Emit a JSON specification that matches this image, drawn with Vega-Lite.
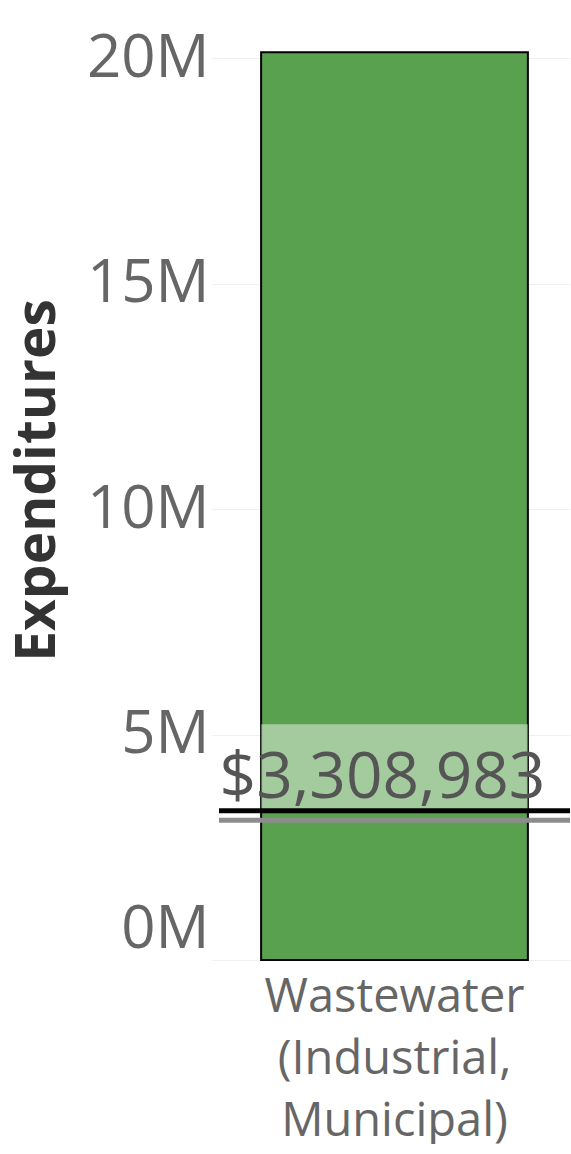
{
  "$schema": "https://vega.github.io/schema/vega-lite/v6.json",
  "width": 351,
  "height": 960,
  "padding": {"left": 10, "top": 0, "right": 0, "bottom": 0},
  "background": "white",
  "data": {"values": [
    {"category": "Wastewater (Industrial, Municipal)", "expenditures": 20130000, "reference": 3308983, "band_high": 5230000, "secondary": 3100000}
  ]},
  "encoding": {
    "x": {
      "field": "category", "type": "nominal",
      "scale": {"paddingInner": 0.24, "paddingOuter": 0.12},
      "axis": {
        "title": null, "labelAngle": 0,
        "labelExpr": "split(datum.label, ' ')",
        "labelFont": "Open Sans", "labelFontSize": 47, "labelColor": "#666666",
        "labelLineHeight": 62, "labelPadding": 14, "labelLimit": 0,
        "domain": false, "ticks": false, "grid": false
      }
    }
  },
  "layer": [
    {
      "mark": {"type": "bar", "fill": "#59A14F", "stroke": "#000000", "strokeWidth": 2},
      "encoding": {
        "y": {
          "field": "expenditures", "type": "quantitative",
          "scale": {"domain": [0, 21290000], "nice": false},
          "axis": {
            "title": "Expenditures",
            "titleFont": "Open Sans", "titleFontSize": 55, "titleFontWeight": "bold", "titleColor": "#333333",
            "titlePadding": 20,
            "values": [0, 5000000, 10000000, 15000000, 20000000],
            "labelExpr": "format(datum.value / 1000000, 'd') + 'M'",
            "labelFont": "Open Sans", "labelFontSize": 60, "labelColor": "#666666",
            "labelFlush": true, "labelPadding": 3,
            "domain": false, "ticks": true, "tickSize": 7, "tickColor": "#f0f0f0",
            "grid": true, "gridColor": "#efefef", "gridWidth": 1
          }
        }
      }
    },
    {
      "mark": {"type": "rect", "fill": "#ffffff", "opacity": 0.45},
      "encoding": {
        "y": {"field": "reference", "type": "quantitative"},
        "y2": {"field": "band_high"}
      }
    },
    {
      "mark": {"type": "rule", "color": "#8c8c8c", "strokeWidth": 5},
      "encoding": {"y": {"field": "secondary", "type": "quantitative"}, "x": null}
    },
    {
      "mark": {"type": "rule", "color": "#000000", "strokeWidth": 5},
      "encoding": {"y": {"field": "reference", "type": "quantitative"}, "x": null}
    },
    {
      "mark": {"type": "text", "font": "Open Sans", "fontSize": 64, "color": "#555555", "baseline": "alphabetic", "align": "center", "dy": -13, "dx": -12},
      "encoding": {
        "y": {"field": "reference", "type": "quantitative"},
        "text": {"field": "reference", "type": "quantitative", "format": "$,d"}
      }
    }
  ],
  "config": {"view": {"stroke": null}}
}
